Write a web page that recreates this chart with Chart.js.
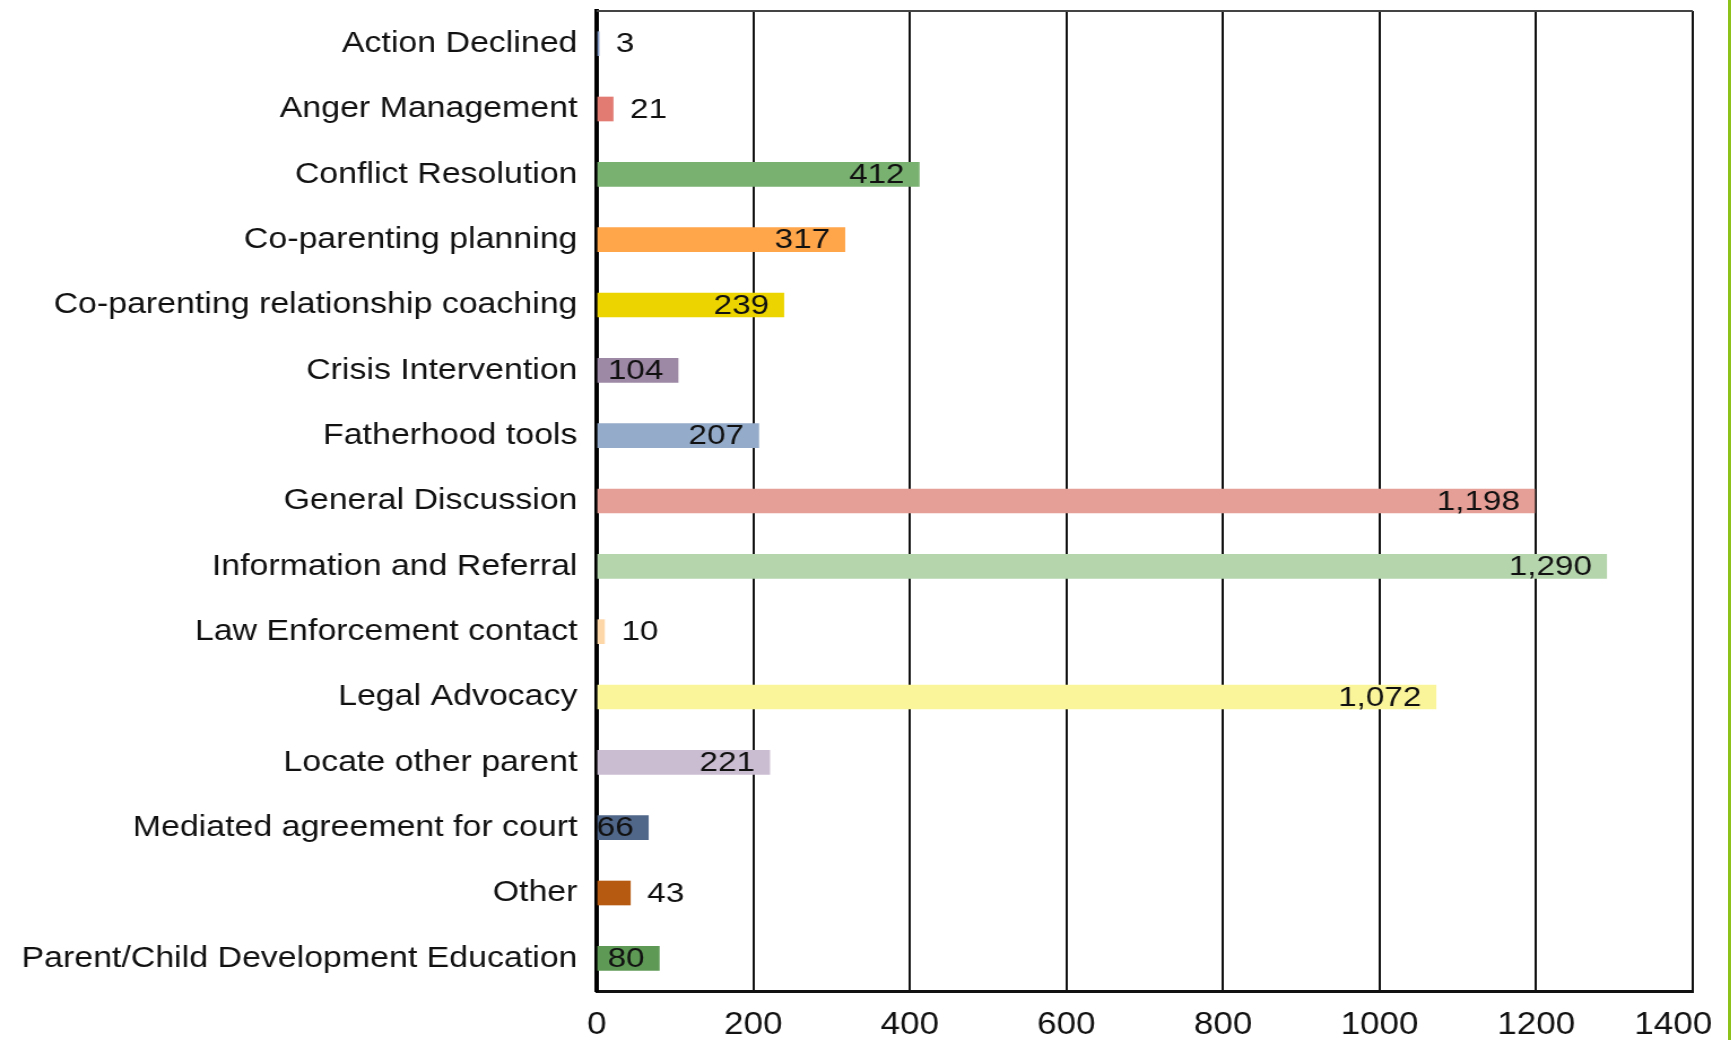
<!DOCTYPE html>
<html>
<head>
<meta charset="utf-8">
<script src="https://cdn.jsdelivr.net/npm/chart.js@4.4.0/dist/chart.umd.min.js"></script>
<style>
    html, body { margin: 0; padding: 0; background: #fff; overflow: hidden; }
    /* the source picture is a little stretched sideways, so stretch the whole chart */
    #wrap { position: absolute; left: 0; top: 0; width: 1532px; height: 1040px; transform: scaleX(1.13); transform-origin: 0 0; }
    #edge { position: absolute; top: 0; right: 0; width: 3px; height: 1040px; background: #8cc21a; }
</style>
</head>
<body>
<div id="wrap"><canvas id="services-chart"></canvas></div>
<div id="edge"></div>
<script>
// Services provided (top to bottom)
const categories = [
    'Action Declined',
    'Anger Management',
    'Conflict Resolution',
    'Co-parenting planning',
    'Co-parenting relationship coaching',
    'Crisis Intervention',
    'Fatherhood tools',
    'General Discussion',
    'Information and Referral',
    'Law Enforcement contact',
    'Legal Advocacy',
    'Locate other parent',
    'Mediated agreement for court',
    'Other',
    'Parent/Child Development Education'
];
const counts = [3, 21, 412, 317, 239, 104, 207, 1198, 1290, 10, 1072, 221, 66, 43, 80];
const barColors = [
    '#7a93c0', '#e27b72', '#79b171', '#ffa54a', '#ecd400',
    '#9d88a6', '#94abc9', '#e69f96', '#b5d5ad', '#fdd7a8',
    '#faf59b', '#cbbdd1', '#51678a', '#b55a10', '#5e9a56'
];
const xTickValues = [0, 200, 400, 600, 800, 1000, 1200, 1400];
const xTickLabels = ['0', '200', '400', '600', '800', '1000', '1200', '1400'];

const FONT = '"Liberation Sans", Arial, sans-serif';

// Value labels: inside the bar end for long bars, just past the end for short ones
const barValueLabels = {
    id: 'barValueLabels',
    afterDatasetsDraw(chart) {
        const ctx = chart.ctx;
        const meta = chart.getDatasetMeta(0);
        ctx.save();
        ctx.font = '28px ' + FONT;
        ctx.fillStyle = '#111';
        ctx.textBaseline = 'middle';
        meta.data.forEach((bar, i) => {
            const value = counts[i];
            const inside = value >= 60;
            ctx.textAlign = inside ? 'right' : 'left';
            ctx.save();
            ctx.translate(inside ? bar.x - 13 : bar.x + 15, bar.y + 1);
            ctx.scale(1.05, 1);
            ctx.fillText(value.toLocaleString('en-US'), 0, 0);
            ctx.restore();
        });
        ctx.restore();
    }
};

// Thin top edge of the plot box
const plotFrame = {
    id: 'plotFrame',
    afterDraw(chart) {
        const { ctx, chartArea: a } = chart;
        ctx.save();
        ctx.strokeStyle = '#444';
        ctx.lineWidth = 2;
        ctx.beginPath();
        ctx.moveTo(a.left, a.top);
        ctx.lineTo(a.right, a.top);
        ctx.stroke();
        ctx.restore();
    }
};

new Chart(document.getElementById('services-chart'), {
    type: 'bar',
    data: {
        labels: categories,
        datasets: [{
            data: counts,
            backgroundColor: barColors,
            borderWidth: 0,
            barThickness: 24
        }]
    },
    options: {
        indexAxis: 'y',
        responsive: true,
        maintainAspectRatio: false,
        animation: false,
        layout: {
            padding: { left: 10, right: 1, top: 11, bottom: 1 }
        },
        plugins: {
            legend: { display: false },
            tooltip: { enabled: false }
        },
        scales: {
            x: {
                min: 0,
                max: 1400,
                afterBuildTicks: axis => {
                    axis.ticks = xTickValues.map(v => ({ value: v }));
                },
                afterFit: axis => {
                    axis.height = 48;
                    axis.paddingLeft = 0;
                    axis.paddingRight = 34;
                },
                ticks: {
                    color: '#111',
                    padding: 19,
                    maxRotation: 0,
                    font: { family: FONT, size: 31, lineHeight: 1 },
                    // last label sits a bit inside the plot edge, as in the original
                    callback: (value, index) =>
                        index === xTickLabels.length - 1 ? xTickLabels[index] + '    ' : xTickLabels[index]
                },
                grid: {
                    color: '#111',
                    lineWidth: 2,
                    drawTicks: false
                },
                border: { color: '#111', width: 3 }
            },
            y: {
                afterFit: axis => {
                    axis.width = 518;
                    axis.paddingTop = 0;
                    axis.paddingBottom = 0;
                },
                ticks: {
                    color: '#111',
                    padding: 17,
                    font: { family: FONT, size: 30 }
                },
                grid: { display: false, drawTicks: false },
                border: { display: true, color: '#000', width: 4 }
            }
        }
    },
    plugins: [barValueLabels, plotFrame]
});
</script>
</body>
</html>
